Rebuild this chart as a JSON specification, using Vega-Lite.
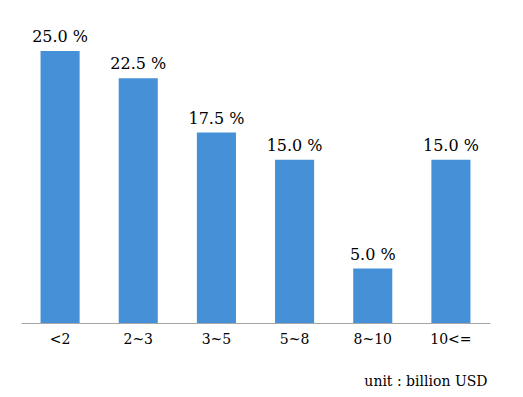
{
  "$schema": "https://vega.github.io/schema/vega-lite/v6.json",
  "autosize": "none",
  "width": 469,
  "height": 300,
  "padding": {"left": 21, "top": 23, "right": 33, "bottom": 74},
  "background": "white",
  "config": {"view": {"stroke": null}, "font": "DejaVu Serif"},
  "data": {"values": [
    {"range": "<2", "share": 25.0, "label": "25.0 %"},
    {"range": "2~3", "share": 22.5, "label": "22.5 %"},
    {"range": "3~5", "share": 17.5, "label": "17.5 %"},
    {"range": "5~8", "share": 15.0, "label": "15.0 %"},
    {"range": "8~10", "share": 5.0, "label": "5.0 %"},
    {"range": "10<=", "share": 15.0, "label": "15.0 %"}
  ]},
  "encoding": {
    "x": {"field": "range", "type": "nominal", "sort": null,
      "scale": {"paddingInner": 0.5, "paddingOuter": 0.25},
      "axis": {"title": "unit : billion USD", "labelAngle": 0, "ticks": false, "labelPadding": 9,
        "labelFont": "DejaVu Serif", "labelFontSize": 14, "labelColor": "#000000",
        "domainColor": "#a6a6a6", "domainWidth": 1,
        "titleFont": "DejaVu Serif", "titleFontSize": 14, "titleFontWeight": "normal", "titleColor": "#000000",
        "titleAnchor": "end", "titleAlign": "right", "titleX": 466, "titleY": 62, "titleBaseline": "alphabetic"}},
    "y": {"field": "share", "type": "quantitative", "scale": {"domain": [0, 27.57], "nice": false}, "axis": null}
  },
  "layer": [
    {"mark": {"type": "bar", "color": "#4590D6"}},
    {"mark": {"type": "text", "baseline": "alphabetic", "dy": -9, "font": "DejaVu Serif", "fontSize": 16, "color": "#000000"},
      "encoding": {"text": {"field": "label"}}}
  ]
}
